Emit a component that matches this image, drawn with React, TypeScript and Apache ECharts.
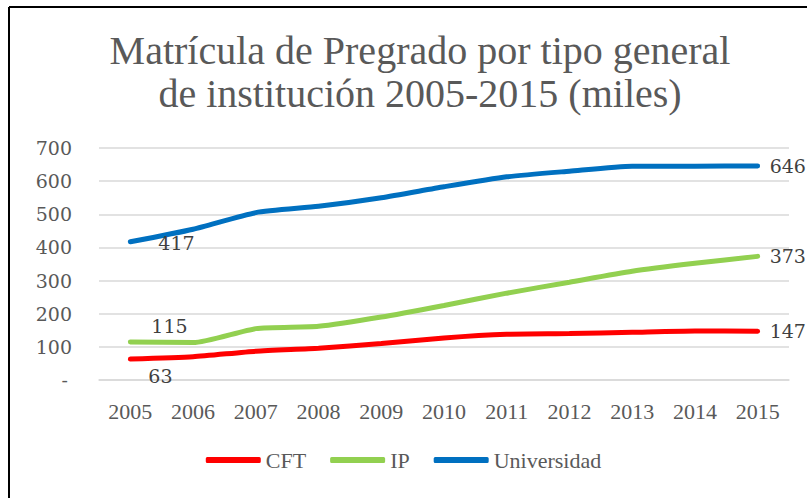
import React, { useEffect, useRef } from "react";
import * as echarts from "echarts";

const years = ["2005", "2006", "2007", "2008", "2009", "2010", "2011", "2012", "2013", "2014", "2015"];
const cft = [63, 70, 87, 96, 110, 127, 138, 140, 144, 148, 147];
const ip = [115, 113, 155, 162, 190, 225, 262, 295, 328, 352, 373];
const universidad = [417, 455, 505, 524, 550, 583, 613, 630, 645, 645, 646];
const titleText = "Matrícula de Pregrado por tipo general\nde institución 2005-2015 (miles)";

const serif = "'DejaVu Serif', serif";
const libSerif = "'Liberation Serif', serif";
const gray = "#595959";

function makeData(values: number[], firstPos: number[]) {
  return values.map((v, i) => {
    if (i === 0) return { value: v, label: { show: true, position: firstPos } };
    if (i === values.length - 1) return { value: v, label: { show: true, position: [13, 1] } };
    return { value: v };
  });
}

export default function App() {
  const ref = useRef<HTMLDivElement>(null);
  useEffect(() => {
    const chart = echarts.init(ref.current!, null, { renderer: "svg" });
    const mk = (name: string, color: string, values: number[], firstPos: number[]) => ({
      name,
      type: "line",
      smooth: 0.2,
      symbol: "circle",
      symbolSize: 2,
      showSymbol: true,
      itemStyle: { color },
      lineStyle: { color, width: 5, cap: "round" },
      label: { show: false, fontFamily: serif, fontSize: 19, color: "#404040", align: "left", verticalAlign: "middle" },
      data: makeData(values, firstPos),
    });
    chart.setOption({
      animation: false,
      backgroundColor: "#ffffff",
      title: {
        text: titleText,
        left: 415,
        top: 24,
        textAlign: "center",
        textStyle: { fontFamily: libSerif, fontSize: 40, fontWeight: "normal", color: gray, lineHeight: 43 },
      },
      grid: { left: 99, right: 18, top: 148, bottom: 118 },
      legend: {
        bottom: 22,
        left: "center",
        icon: "roundRect",
        itemWidth: 55,
        itemHeight: 6,
        itemGap: 24,
        textStyle: { fontFamily: libSerif, fontSize: 22, color: gray },
        data: ["CFT", "IP", "Universidad"],
      },
      xAxis: {
        type: "category",
        data: years,
        boundaryGap: true,
        axisLine: { show: true, lineStyle: { color: "#d9d9d9", width: 1.5 } },
        axisTick: { show: false },
        axisLabel: { interval: 0, margin: 20, fontFamily: libSerif, fontSize: 22, color: gray },
      },
      yAxis: {
        type: "value",
        min: 0,
        max: 700,
        interval: 100,
        axisLine: { show: false },
        axisTick: { show: false },
        splitLine: { lineStyle: { color: "#d9d9d9", width: 1.5 } },
        axisLabel: {
          margin: 27,
          fontFamily: serif,
          fontSize: 19,
          color: gray,
          formatter: (v: number) => (v === 0 ? "{d|-}" : String(v)),
          rich: { d: { fontFamily: serif, fontSize: 19, color: gray, padding: [0, 4, 0, 0] } },
        },
      },
      series: [
        mk("CFT", "#ff0000", cft, [19, 18]),
        mk("IP", "#92d050", ip, [22, -15]),
        mk("Universidad", "#0070c0", universidad, [29, 2]),
      ],
      graphic: [
        { type: "line", shape: { x1: 9, y1: 7, x2: 807, y2: 7 }, style: { stroke: "#000", lineWidth: 2 } },
        { type: "line", shape: { x1: 9, y1: 7, x2: 9, y2: 498 }, style: { stroke: "#000", lineWidth: 2 } },
      ],
    });
    return () => chart.dispose();
  }, []);
  return <div ref={ref} style={{ position: "fixed", left: 0, top: 0, width: 807, height: 498 }} />;
}
